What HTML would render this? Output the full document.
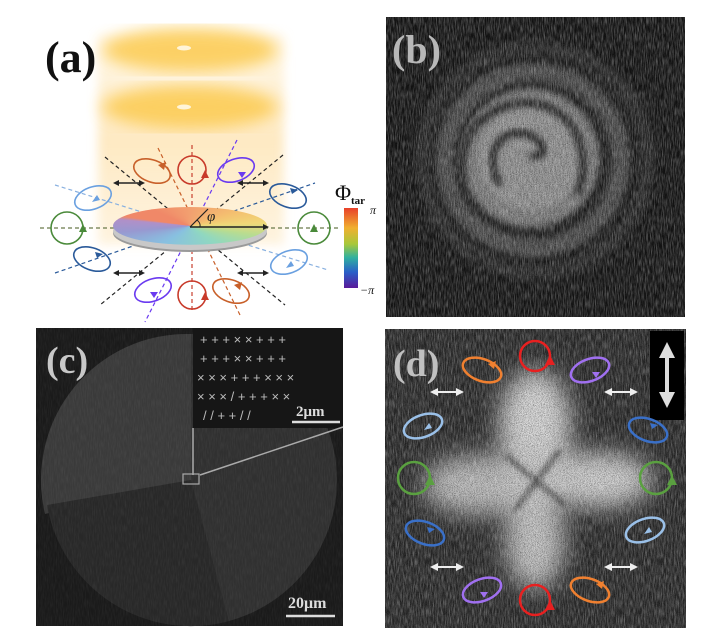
<!DOCTYPE html>
<html><head><meta charset="utf-8"><style>
body{margin:0;background:#fff;width:720px;height:635px;overflow:hidden;position:relative;font-family:"Liberation Serif",serif}
.abs{position:absolute}
.lbl{position:absolute;font-weight:bold;font-size:40px;font-family:"Liberation Serif",serif;line-height:1}
</style></head><body>
<svg class="abs" style="left:0;top:0" width="720" height="635" viewBox="0 0 720 635">
<defs>
<filter id="noise" x="0" y="0" width="100%" height="100%">
<feTurbulence type="fractalNoise" baseFrequency="1.1 0.12" numOctaves="2" seed="3"/>
<feColorMatrix type="matrix" values="0 0 0 0 1  0 0 0 0 1  0 0 0 0 1  2.2 0 0 0 -0.8"/>
</filter>
<filter id="noise2" x="0" y="0" width="100%" height="100%">
<feTurbulence type="fractalNoise" baseFrequency="1.4 0.9" numOctaves="1" seed="7"/>
<feColorMatrix type="matrix" values="0 0 0 0 0  0 0 0 0 0  0 0 0 0 0  2.2 0 0 0 -0.9"/>
</filter>
<filter id="blur6"><feGaussianBlur stdDeviation="5"/></filter>
<filter id="blur8"><feGaussianBlur stdDeviation="8"/></filter>
<filter id="blur3"><feGaussianBlur stdDeviation="3"/></filter>
<filter id="blur10"><feGaussianBlur stdDeviation="12"/></filter>
<linearGradient id="cbar" x1="0" y1="0" x2="0" y2="1">
<stop offset="0" stop-color="#e8402a"/><stop offset="0.25" stop-color="#f0b030"/><stop offset="0.45" stop-color="#a8c83a"/><stop offset="0.62" stop-color="#30b0a0"/><stop offset="0.8" stop-color="#2a60c8"/><stop offset="1" stop-color="#5a1a9a"/>
</linearGradient>
<linearGradient id="col" x1="0" y1="0" x2="0" y2="1">
<stop offset="0" stop-color="#fde7b8" stop-opacity="0.3"/><stop offset="0.5" stop-color="#fde0a8" stop-opacity="0.7"/><stop offset="1" stop-color="#fde8c0" stop-opacity="0.5"/>
</linearGradient>
<marker id="ah" viewBox="0 0 10 10" refX="5" refY="5" markerWidth="4" markerHeight="4" orient="auto-start-reverse"><path d="M0,0L10,5L0,10z" fill="context-stroke"/></marker>
</defs>

<!-- panel a -->
<rect x="98" y="35" width="186" height="210" fill="url(#col)" filter="url(#blur6)"/>
<ellipse cx="190" cy="50" rx="88" ry="22" fill="#fcca50" opacity="0.85" filter="url(#blur8)"/>
<ellipse cx="190" cy="107" rx="88" ry="22" fill="#fcca50" opacity="0.85" filter="url(#blur8)"/>
<ellipse cx="184" cy="48" rx="7" ry="2.5" fill="#fff4d8"/>
<ellipse cx="184" cy="107" rx="7" ry="2.5" fill="#fff4d8"/>
<g stroke-width="1.2" stroke-dasharray="4,3" fill="none">
<line x1="40" y1="228" x2="338" y2="228" stroke="#6a7a4a"/>
<line x1="192" y1="145" x2="192" y2="310" stroke="#c84030"/>
<line x1="158" y1="148" x2="240" y2="315" stroke="#c8602a"/>
<line x1="237" y1="140" x2="145" y2="322" stroke="#6a3af0"/>
<line x1="105" y1="157" x2="285" y2="305" stroke="#222"/>
<line x1="283" y1="155" x2="100" y2="305" stroke="#222"/>
<line x1="55" y1="185" x2="328" y2="270" stroke="#88b0e0"/>
<line x1="55" y1="273" x2="315" y2="183" stroke="#2a5a9a"/>
</g>
<ellipse cx="190" cy="233" rx="77" ry="19" fill="#9a9a9a"/>
<ellipse cx="190" cy="231" rx="77" ry="19" fill="#c8c8c8"/>
<foreignObject x="113" y="207" width="154" height="38"><div xmlns="http://www.w3.org/1999/xhtml" style="width:154px;height:154px;border-radius:50%;transform:scaleY(0.245);transform-origin:0 0;background:conic-gradient(from -30deg,#f08868 0deg,#f2a070 30deg,#f4c070 70deg,#f0d878 110deg,#b8dc90 150deg,#90d8c0 190deg,#88c0e0 230deg,#9898d0 280deg,#b090c8 320deg,#f08868 330deg)"></div></foreignObject>
<line x1="190" y1="227" x2="266" y2="227" stroke="#222" stroke-width="1.5" marker-end="url(#ah)"/>
<line x1="190" y1="227" x2="208" y2="209" stroke="#222" stroke-width="1.2"/>
<path d="M200,227 A10,8 0 0 0 197,220" stroke="#222" fill="none"/>
<text x="207" y="221" font-size="15" font-style="italic" fill="#222">φ</text>
<g fill="none" stroke-width="1.6">
<circle cx="67" cy="228" r="16" stroke="#4a8a3a"/><path d="M83,224l-4,8l8,0z" fill="#4a8a3a"/>
<circle cx="314" cy="228" r="16" stroke="#4a8a3a"/><path d="M314,224l-4,8l8,0z" fill="#4a8a3a"/>
<circle cx="192" cy="170" r="14" stroke="#c83a2a"/><path d="M205,170l-4,8l8,0z" fill="#c83a2a"/>
<circle cx="192" cy="295" r="14" stroke="#c83a2a"/><path d="M205,292l-4,8l8,0z" fill="#c83a2a"/>
<ellipse cx="152" cy="171" rx="19" ry="11" transform="rotate(20 152 171)" stroke="#c8602a"/>
<ellipse cx="236" cy="170" rx="19" ry="11" transform="rotate(-20 236 170)" stroke="#6a3af0"/>
<ellipse cx="93" cy="198" rx="19" ry="11" transform="rotate(-20 93 198)" stroke="#6aa0e0"/>
<ellipse cx="288" cy="196" rx="19" ry="11" transform="rotate(20 288 196)" stroke="#2a5a9a"/>
<ellipse cx="92" cy="259" rx="19" ry="11" transform="rotate(20 92 259)" stroke="#2a5a9a"/>
<ellipse cx="289" cy="262" rx="19" ry="11" transform="rotate(-20 289 262)" stroke="#6aa0e0"/>
<ellipse cx="153" cy="290" rx="19" ry="11" transform="rotate(-20 153 290)" stroke="#6a3af0"/>
<ellipse cx="231" cy="291" rx="19" ry="11" transform="rotate(20 231 291)" stroke="#c8602a"/>
</g>
<g fill="#c8602a"><path d="M158,165l8,-3l-2,8z"/><path d="M234,285l8,-3l-2,8z" /></g>
<g fill="#6a3af0"><path d="M238,172l8,0l-4,6z"/><path d="M150,292l8,0l-4,6z"/></g>
<g fill="#6aa0e0"><path d="M100,200l-8,2l5,-7z"/><path d="M294,266l-8,2l5,-7z"/></g>
<g fill="#2a5a9a"><path d="M290,188l8,2l-6,4z"/><path d="M95,252l8,2l-6,4z"/></g>
<g stroke="#222" stroke-width="1.5" marker-start="url(#ah)" marker-end="url(#ah)">
<line x1="116" y1="183" x2="142" y2="183"/><line x1="240" y1="183" x2="266" y2="183"/>
<line x1="116" y1="273" x2="142" y2="273"/><line x1="240" y1="273" x2="266" y2="273"/>
</g>
<rect x="344" y="208" width="14" height="80" fill="url(#cbar)"/>
<text x="335" y="200" font-size="22" fill="#111">Φ</text>
<text x="351" y="204" font-size="11" font-weight="bold" fill="#111">tar</text>
<text x="370" y="214" font-size="12" font-style="italic" fill="#111">π</text>
<text x="360" y="294" font-size="12" font-style="italic" fill="#111">−π</text>

<!-- panel b -->
<rect x="386" y="17" width="299" height="300" fill="#161616"/>
<g filter="url(#blur3)">
<circle cx="535" cy="160" r="120" fill="#2a2a2a"/>
<circle cx="535" cy="160" r="106" fill="#1c1c1c"/>
<circle cx="533" cy="160" r="96" fill="#505050"/>
<circle cx="533" cy="160" r="80" fill="#202020"/>
<circle cx="530" cy="158" r="68" fill="#808080"/>
<circle cx="530" cy="158" r="52" fill="#959595"/>
</g>
<path d="M500,185 C480,150 505,125 530,135 C550,145 545,160 530,155" stroke="#2a2a2a" stroke-width="8" fill="none" filter="url(#blur3)"/>
<path d="M470,205 C445,150 480,100 530,103 C575,108 592,150 578,195" stroke="#2a2a2a" stroke-width="8" fill="none" filter="url(#blur3)"/>
<rect x="386" y="17" width="299" height="300" filter="url(#noise2)" opacity="0.55"/>
<rect x="386" y="17" width="299" height="300" filter="url(#noise)" opacity="0.3"/>

<!-- panel c -->
<rect x="36" y="328" width="307" height="298" fill="#1a1a1a"/>
<circle cx="191" cy="480" r="146" fill="#303030"/>
<path d="M191,480 L45,514 A146,146 0 0 1 191,334 Z" fill="#3a3a3a"/>
<path d="M191,480 L229,621 A146,146 0 0 1 47,505 Z" fill="#282828"/>
<rect x="36" y="328" width="307" height="298" filter="url(#noise)" opacity="0.05"/>
<rect x="193" y="328" width="150" height="100" fill="#161616"/>
<g fill="#bbb" font-size="13" font-family="Liberation Sans">
<text x="200" y="344">+ + + × × + + +</text>
<text x="200" y="363">+ + + × × + + +</text>
<text x="197" y="382">× × × + + + × × ×</text>
<text x="197" y="401">× × × / + + + × ×</text>
<text x="203" y="420">/ / + + / /</text>
</g>
<line x1="193" y1="428" x2="193" y2="475" stroke="#aaa" stroke-width="1.5"/>
<line x1="200" y1="475" x2="343" y2="427" stroke="#aaa" stroke-width="1.5"/>
<rect x="183" y="474" width="16" height="10" stroke="#aaa" stroke-width="1.2" fill="none"/>
<line x1="292" y1="422" x2="340" y2="422" stroke="#ddd" stroke-width="2.5"/>
<text x="296" y="416" font-size="15" font-weight="bold" fill="#ddd">2μm</text>
<line x1="286" y1="616" x2="335" y2="616" stroke="#ddd" stroke-width="2.5"/>
<text x="288" y="608" font-size="16" font-weight="bold" fill="#ddd">20μm</text>

<!-- panel d -->
<rect x="385" y="329" width="301" height="299" fill="#2c2c2c"/>
<g filter="url(#blur10)">
<ellipse cx="535" cy="425" rx="36" ry="55" fill="#d8d8d8"/>
<ellipse cx="535" cy="540" rx="30" ry="50" fill="#c4c4c4"/>
<ellipse cx="478" cy="485" rx="55" ry="30" fill="#bcbcbc"/>
<ellipse cx="598" cy="480" rx="55" ry="28" fill="#d0d0d0"/>
<circle cx="535" cy="480" r="32" fill="#c8c8c8"/>
</g>
<g stroke="#3a3a3a" stroke-width="4" filter="url(#blur3)"><line x1="505" y1="455" x2="565" y2="505"/><line x1="560" y1="450" x2="515" y2="510"/></g>
<rect x="385" y="329" width="301" height="299" filter="url(#noise2)" opacity="0.55"/>
<rect x="385" y="329" width="301" height="299" filter="url(#noise)" opacity="0.3"/>
<rect x="650" y="331" width="34" height="89" fill="#000"/>
<g stroke="#ddd" stroke-width="4" marker-start="url(#ah)" marker-end="url(#ah)"><line x1="667" y1="350" x2="667" y2="400"/></g>
<g fill="none" stroke-width="2.5">
<circle cx="535" cy="356" r="15" stroke="#e82020"/><circle cx="535" cy="600" r="15" stroke="#e82020"/>
<circle cx="414" cy="478" r="16" stroke="#5aa040"/><circle cx="656" cy="478" r="16" stroke="#5aa040"/>
<ellipse cx="482" cy="370" rx="20" ry="11" transform="rotate(20 482 370)" stroke="#f08030"/>
<ellipse cx="590" cy="370" rx="20" ry="11" transform="rotate(-20 590 370)" stroke="#a070f0"/>
<ellipse cx="423" cy="426" rx="20" ry="11" transform="rotate(-20 423 426)" stroke="#9ac0e8"/>
<ellipse cx="648" cy="430" rx="20" ry="11" transform="rotate(20 648 430)" stroke="#3a70c8"/>
<ellipse cx="425" cy="533" rx="20" ry="11" transform="rotate(20 425 533)" stroke="#3a70c8"/>
<ellipse cx="645" cy="530" rx="20" ry="11" transform="rotate(-20 645 530)" stroke="#9ac0e8"/>
<ellipse cx="482" cy="590" rx="20" ry="11" transform="rotate(-20 482 590)" stroke="#a070f0"/>
<ellipse cx="590" cy="590" rx="20" ry="11" transform="rotate(20 590 590)" stroke="#f08030"/>
</g>
<g fill="#e82020"><path d="M550,355l-5,10l10,0z"/><path d="M550,600l-5,10l10,0z"/></g>
<g fill="#5aa040"><path d="M430,475l-5,10l10,0z"/><path d="M672,475l-5,10l10,0z"/></g>
<g fill="#f08030"><path d="M488,364l8,-3l-2,8z"/><path d="M596,584l8,-3l-2,8z"/></g>
<g fill="#a070f0"><path d="M592,372l8,0l-4,6z"/><path d="M480,592l8,0l-4,6z"/></g>
<g fill="#9ac0e8"><path d="M432,428l-8,2l5,-7z"/><path d="M652,532l-8,2l5,-7z"/></g>
<g fill="#3a70c8"><path d="M650,423l8,2l-6,4z"/><path d="M427,527l8,2l-6,4z"/></g>
<g stroke="#eee" stroke-width="2" marker-start="url(#ah)" marker-end="url(#ah)">
<line x1="434" y1="392" x2="460" y2="392"/><line x1="608" y1="392" x2="634" y2="392"/>
<line x1="434" y1="567" x2="460" y2="567"/><line x1="608" y1="567" x2="634" y2="567"/>
</g>
</svg>
<div class="lbl" style="left:45px;top:36px;color:#111;font-size:44px">(a)</div>
<div class="lbl" style="left:392px;top:30px;color:#b8b8b8;font-size:40px">(b)</div>
<div class="lbl" style="left:46px;top:342px;color:#c8c8c8;font-size:38px">(c)</div>
<div class="lbl" style="left:393px;top:345px;color:#c0c0c0;font-size:38px">(d)</div>
</body></html>
